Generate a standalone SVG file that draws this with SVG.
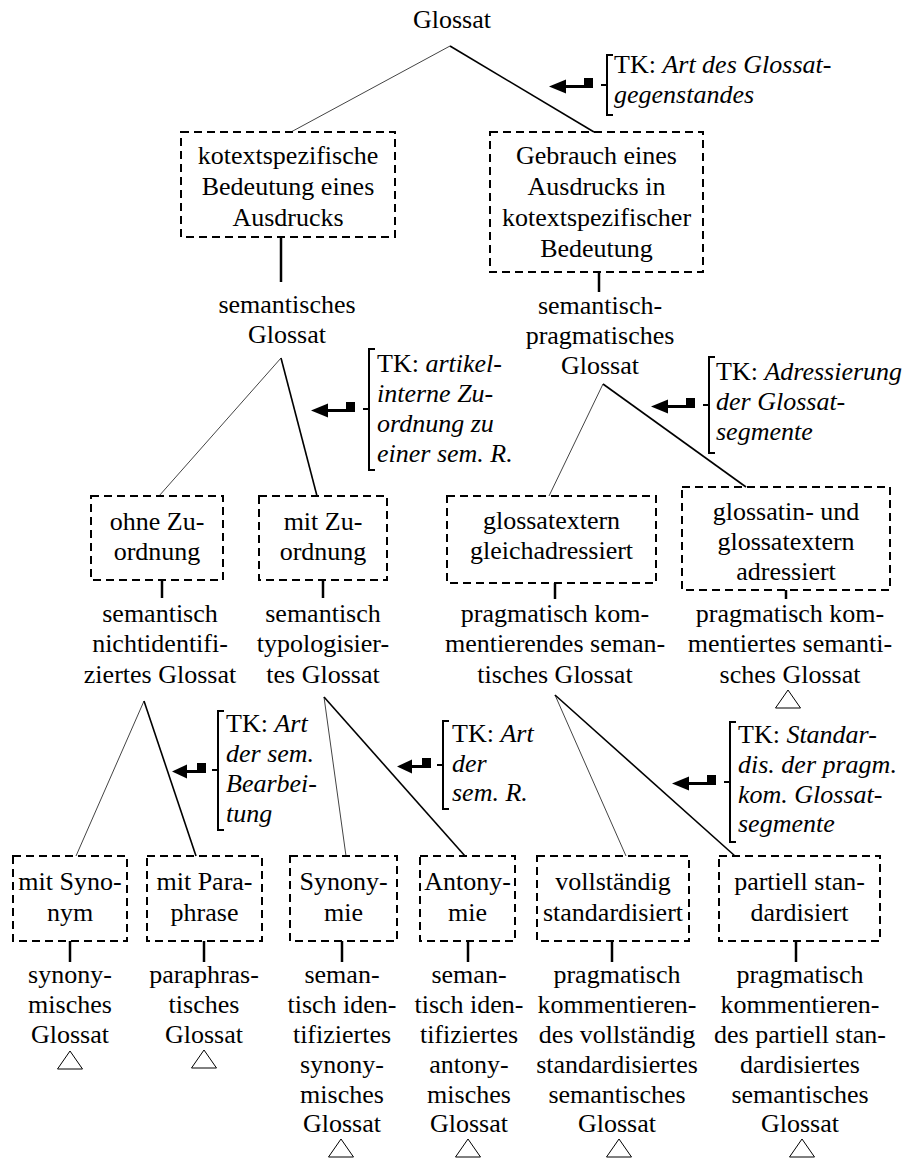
<svg xmlns="http://www.w3.org/2000/svg" xmlns:xlink="http://www.w3.org/1999/xlink" width="905" height="1158" viewBox="0 0 905 1158">
  <style>
    .t { font-family: "Liberation Serif", "Times New Roman", serif; font-size: 26px; fill: #000; text-anchor: middle; }
    .tk { font-family: "Liberation Serif", "Times New Roman", serif; font-size: 26px; fill: #000; text-anchor: start; }
    .i { font-style: italic; }
    .box { fill: none; stroke: #000; stroke-width: 2; stroke-dasharray: 8 5; }
    .thin { stroke: #444; stroke-width: 1; }
    .thick { stroke: #000; stroke-width: 1.6; }
    .stem { stroke: #000; stroke-width: 2.5; }
    .brk { fill: none; stroke: #000; stroke-width: 2; }
    .tri { fill: #fff; stroke: #000; stroke-width: 1; }
  </style>
  <defs>
    <!-- return-arrow pointing left, origin = mid tick of a bracket -->
    <g id="arrowLong">
      <rect x="-23" y="-7" width="9" height="10" fill="#000"/>
      <line x1="-43" y1="1.5" x2="-14" y2="1.5" stroke="#000" stroke-width="3"/>
      <polygon points="-58,1.5 -41,-5.5 -41,8.5" fill="#000"/>
    </g>
    <g id="arrowShort">
      <rect x="-21" y="-7" width="9" height="10" fill="#000"/>
      <line x1="-32" y1="1.5" x2="-12" y2="1.5" stroke="#000" stroke-width="3"/>
      <polygon points="-46,1.5 -31,-5.5 -31,8.5" fill="#000"/>
    </g>
  </defs>
  <rect width="905" height="1158" fill="#fff"/>

  <!-- tree connectors -->
  <g id="connectors">
    <line class="thin" x1="450" y1="46" x2="291" y2="132"/>
    <line class="thick" x1="450" y1="46" x2="594" y2="132"/>
    <line class="stem" x1="281" y1="237" x2="281" y2="282"/>
    <line class="stem" x1="599" y1="272" x2="599" y2="292"/>
    <line class="thin" x1="281" y1="358" x2="159" y2="496"/>
    <line class="thick" x1="281" y1="358" x2="317" y2="496"/>
    <line class="thin" x1="603" y1="384" x2="549" y2="496"/>
    <line class="thick" x1="603" y1="384" x2="746" y2="487"/>
    <line class="stem" x1="162" y1="580" x2="162" y2="598"/>
    <line class="stem" x1="323" y1="580" x2="323" y2="598"/>
    <line class="stem" x1="555" y1="583" x2="555" y2="599"/>
    <line class="stem" x1="786" y1="590" x2="786" y2="599"/>
    <line class="thin" x1="144" y1="701" x2="76" y2="856"/>
    <line class="thick" x1="144" y1="701" x2="196" y2="856"/>
    <line class="thin" x1="324" y1="697" x2="346" y2="856"/>
    <line class="thick" x1="324" y1="697" x2="465" y2="856"/>
    <line class="thin" x1="555" y1="695" x2="626" y2="856"/>
    <line class="thick" x1="555" y1="695" x2="735" y2="856"/>
    <line class="stem" x1="70" y1="941" x2="70" y2="962"/>
    <line class="stem" x1="204" y1="941" x2="204" y2="962"/>
    <line class="stem" x1="342" y1="941" x2="342" y2="962"/>
    <line class="stem" x1="468" y1="941" x2="468" y2="962"/>
    <line class="stem" x1="612" y1="941" x2="612" y2="962"/>
    <line class="stem" x1="796" y1="941" x2="796" y2="962"/>
  </g>

  <!-- root -->
  <g id="glossat">
    <text class="t" x="452" y="28">Glossat</text>
  </g>

  <!-- level 1 -->
  <g id="kotext-bedeutung">
    <rect class="box" x="181" y="132" width="214" height="105"/>
    <text class="t"><tspan x="288" y="164">kotextspezifische</tspan><tspan x="288" y="195">Bedeutung eines</tspan><tspan x="288" y="226">Ausdrucks</tspan></text>
  </g>
  <g id="gebrauch">
    <rect class="box" x="490" y="132" width="213" height="140"/>
    <text class="t"><tspan x="596.5" y="164">Gebrauch eines</tspan><tspan x="596.5" y="195">Ausdrucks in</tspan><tspan x="596.5" y="226">kotextspezifischer</tspan><tspan x="596.5" y="257">Bedeutung</tspan></text>
  </g>
  <g id="semantisches-glossat">
    <text class="t"><tspan x="287" y="313">semantisches</tspan><tspan x="287" y="343">Glossat</tspan></text>
  </g>
  <g id="sem-prag-glossat">
    <text class="t"><tspan x="600" y="314">semantisch-</tspan><tspan x="600" y="344">pragmatisches</tspan><tspan x="600" y="374">Glossat</tspan></text>
  </g>

  <!-- level 2 -->
  <g id="ohne-zuordnung">
    <rect class="box" x="91" y="496" width="132" height="84"/>
    <text class="t"><tspan x="157" y="530">ohne Zu-</tspan><tspan x="157" y="560">ordnung</tspan></text>
  </g>
  <g id="mit-zuordnung">
    <rect class="box" x="259" y="496" width="128" height="84"/>
    <text class="t"><tspan x="323" y="530">mit Zu-</tspan><tspan x="323" y="560">ordnung</tspan></text>
  </g>
  <g id="gleichadressiert">
    <rect class="box" x="447" y="496" width="209" height="87"/>
    <text class="t"><tspan x="551.5" y="529">glossatextern</tspan><tspan x="551.5" y="559">gleichadressiert</tspan></text>
  </g>
  <g id="glossatin-adressiert">
    <rect class="box" x="682" y="487" width="208" height="103"/>
    <text class="t"><tspan x="786" y="520">glossatin- und</tspan><tspan x="786" y="550">glossatextern</tspan><tspan x="786" y="580">adressiert</tspan></text>
  </g>
  <g id="nichtidentifiziert">
    <text class="t"><tspan x="160" y="622">semantisch</tspan><tspan x="160" y="652">nichtidentifi-</tspan><tspan x="160" y="683">ziertes Glossat</tspan></text>
  </g>
  <g id="typologisiert">
    <text class="t"><tspan x="323" y="622">semantisch</tspan><tspan x="323" y="652">typologisier-</tspan><tspan x="323" y="683">tes Glossat</tspan></text>
  </g>
  <g id="prag-kommentierend">
    <text class="t"><tspan x="555" y="622">pragmatisch kom-</tspan><tspan x="555" y="652">mentierendes seman-</tspan><tspan x="555" y="683">tisches Glossat</tspan></text>
  </g>
  <g id="prag-kommentiert">
    <text class="t"><tspan x="790" y="622">pragmatisch kom-</tspan><tspan x="790" y="652">mentiertes semanti-</tspan><tspan x="790" y="683">sches Glossat</tspan></text>
    <polygon class="tri" points="788,690 775.5,708 800.5,708"/>
  </g>

  <!-- level 3 -->
  <g id="mit-synonym">
    <rect class="box" x="13" y="856" width="114" height="85"/>
    <text class="t"><tspan x="70" y="890">mit Syno-</tspan><tspan x="70" y="921">nym</tspan></text>
  </g>
  <g id="mit-paraphrase">
    <rect class="box" x="147" y="856" width="115" height="85"/>
    <text class="t"><tspan x="204.5" y="890">mit Para-</tspan><tspan x="204.5" y="921">phrase</tspan></text>
  </g>
  <g id="synonymie">
    <rect class="box" x="290" y="856" width="107" height="85"/>
    <text class="t"><tspan x="343.5" y="890">Synony-</tspan><tspan x="343.5" y="921">mie</tspan></text>
  </g>
  <g id="antonymie">
    <rect class="box" x="420" y="856" width="95" height="85"/>
    <text class="t"><tspan x="467.5" y="890">Antony-</tspan><tspan x="467.5" y="921">mie</tspan></text>
  </g>
  <g id="vollstaendig">
    <rect class="box" x="537" y="856" width="152" height="85"/>
    <text class="t"><tspan x="613" y="890">vollständig</tspan><tspan x="613" y="921">standardisiert</tspan></text>
  </g>
  <g id="partiell">
    <rect class="box" x="719" y="856" width="161" height="85"/>
    <text class="t"><tspan x="799.5" y="890">partiell stan-</tspan><tspan x="799.5" y="921">dardisiert</tspan></text>
  </g>

  <!-- leaves -->
  <g id="synonymisch">
    <text class="t"><tspan x="70" y="983">synony-</tspan><tspan x="70" y="1013">misches</tspan><tspan x="70" y="1043">Glossat</tspan></text>
    <polygon class="tri" points="70,1051 57.5,1069 82.5,1069"/>
  </g>
  <g id="paraphrastisch">
    <text class="t"><tspan x="204" y="983">paraphras-</tspan><tspan x="204" y="1013">tisches</tspan><tspan x="204" y="1043">Glossat</tspan></text>
    <polygon class="tri" points="204,1050 191.5,1068 216.5,1068"/>
  </g>
  <g id="identifiziert-synonymisch">
    <text class="t"><tspan x="342" y="983">seman-</tspan><tspan x="342" y="1013">tisch iden-</tspan><tspan x="342" y="1043">tifiziertes</tspan><tspan x="342" y="1073">synony-</tspan><tspan x="342" y="1103">misches</tspan><tspan x="342" y="1132">Glossat</tspan></text>
    <polygon class="tri" points="341,1139 328.5,1157 353.5,1157"/>
  </g>
  <g id="identifiziert-antonymisch">
    <text class="t"><tspan x="469" y="983">seman-</tspan><tspan x="469" y="1013">tisch iden-</tspan><tspan x="469" y="1043">tifiziertes</tspan><tspan x="469" y="1073">antony-</tspan><tspan x="469" y="1103">misches</tspan><tspan x="469" y="1132">Glossat</tspan></text>
    <polygon class="tri" points="468,1139 455.5,1157 480.5,1157"/>
  </g>
  <g id="vollstaendig-standardisiert">
    <text class="t"><tspan x="617" y="983">pragmatisch</tspan><tspan x="617" y="1013">kommentieren-</tspan><tspan x="617" y="1043">des vollständig</tspan><tspan x="617" y="1073">standardisiertes</tspan><tspan x="617" y="1103">semantisches</tspan><tspan x="617" y="1132">Glossat</tspan></text>
    <polygon class="tri" points="619,1139 606.5,1157 631.5,1157"/>
  </g>
  <g id="partiell-standardisiert">
    <text class="t"><tspan x="800" y="983">pragmatisch</tspan><tspan x="800" y="1013">kommentieren-</tspan><tspan x="800" y="1043">des partiell stan-</tspan><tspan x="800" y="1073">dardisiertes</tspan><tspan x="800" y="1103">semantisches</tspan><tspan x="800" y="1132">Glossat</tspan></text>
    <polygon class="tri" points="802,1139 789.5,1157 814.5,1157"/>
  </g>

  <!-- classification criteria (TK) with brackets and arrows -->
  <g id="tk-gegenstand">
    <path class="brk" d="M613,55 H607 V115 H613 M601,85 H607"/>
    <use xlink:href="#arrowLong" href="#arrowLong" x="607" y="85"/>
    <text class="tk"><tspan x="614" y="73">TK: <tspan class="i">Art des Glossat-</tspan></tspan><tspan class="i" x="614" y="103">gegenstandes</tspan></text>
  </g>
  <g id="tk-zuordnung">
    <path class="brk" d="M375,349 H369 V470 H375 M363,409 H369"/>
    <use xlink:href="#arrowLong" href="#arrowLong" x="369" y="409"/>
    <text class="tk"><tspan x="377" y="372">TK: <tspan class="i">artikel-</tspan></tspan><tspan class="i" x="377" y="402">interne Zu-</tspan><tspan class="i" x="377" y="432">ordnung zu</tspan><tspan class="i" x="377" y="462">einer sem. R.</tspan></text>
  </g>
  <g id="tk-adressierung">
    <path class="brk" d="M715,357 H709 V453 H715 M703,405 H709"/>
    <use xlink:href="#arrowLong" href="#arrowLong" x="709" y="405"/>
    <text class="tk"><tspan x="716" y="380">TK: <tspan class="i">Adressierung</tspan></tspan><tspan class="i" x="716" y="410">der Glossat-</tspan><tspan class="i" x="716" y="440">segmente</tspan></text>
  </g>
  <g id="tk-bearbeitung">
    <path class="brk" d="M224,711 H218 V830 H224 M212,770 H218"/>
    <use xlink:href="#arrowShort" href="#arrowShort" x="218" y="770"/>
    <text class="tk"><tspan x="226" y="732">TK: <tspan class="i">Art</tspan></tspan><tspan class="i" x="226" y="762">der sem.</tspan><tspan class="i" x="226" y="792">Bearbei-</tspan><tspan class="i" x="226" y="822">tung</tspan></text>
  </g>
  <g id="tk-relation">
    <path class="brk" d="M449,721 H443 V809 H449 M437,765 H443"/>
    <use xlink:href="#arrowShort" href="#arrowShort" x="443" y="765"/>
    <text class="tk"><tspan x="452" y="742">TK: <tspan class="i">Art</tspan></tspan><tspan class="i" x="452" y="772">der</tspan><tspan class="i" x="452" y="801">sem. R.</tspan></text>
  </g>
  <g id="tk-standardisierung">
    <path class="brk" d="M736,722 H730 V842 H736 M724,782 H730"/>
    <use xlink:href="#arrowLong" href="#arrowLong" x="730" y="782"/>
    <text class="tk"><tspan x="738" y="743">TK: <tspan class="i">Standar-</tspan></tspan><tspan class="i" x="738" y="773">dis. der pragm.</tspan><tspan class="i" x="738" y="803">kom. Glossat-</tspan><tspan class="i" x="738" y="832">segmente</tspan></text>
  </g>
</svg>
